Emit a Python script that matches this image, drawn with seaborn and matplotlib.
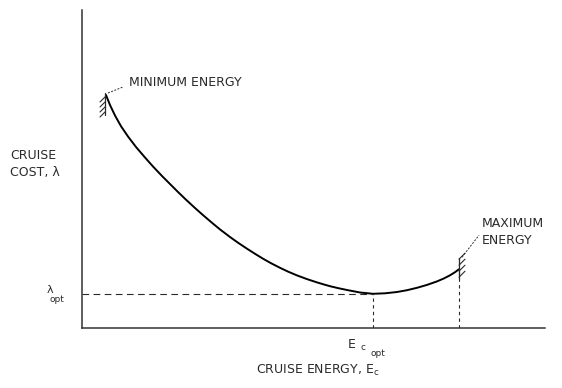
import matplotlib
matplotlib.use("Agg")
import matplotlib.pyplot as plt
import seaborn as sns
import pandas as pd

# ---- data (chart units) ----
energy = [24, 28, 33, 39, 46, 54, 63, 71, 80, 88, 96, 104, 113, 121, 130, 138,
          148, 156, 165, 173, 181, 189, 198, 206, 215, 225, 235, 242, 248, 256,
          265, 278, 291, 303, 315, 325, 335, 345, 355, 362, 368, 373, 377]
cost = [233, 223, 212.5, 201.8, 191.5, 181, 170.5, 161.5, 152, 144, 136, 128.3,
        120, 112.9, 105.2, 98.6, 91, 85.3, 79.3, 74.2, 69.3, 64.8, 60.2, 56.4,
        52.6, 48.9, 45.6, 43.5, 41.8, 39.9, 38, 35.5, 34.2, 34.7, 36, 37.8,
        40.2, 43.1, 46.6, 49.6, 52.7, 55.8, 58.8]
lambda_opt = 34
e_opt = 291
e_max = 377
xlim = (0, 463)
ylim = (0, 318)

sns.set_style("white")
plt.rcParams['font.family'] = ['DejaVu Sans']

fig = plt.figure(figsize=(5.62, 3.88), dpi=100)
ax = fig.add_axes([82 / 562, 60 / 388, 463 / 562, 318 / 388])

df = pd.DataFrame({"energy": energy, "cost": cost})
sns.lineplot(data=df, x="energy", y="cost", ax=ax, color="black", lw=1.4,
             sort=False, estimator=None)
ax.lines[-1].set_solid_joinstyle("round")

ink = "#2a2a2a"
# dashed guide lines
ax.plot([xlim[0], e_opt], [lambda_opt, lambda_opt], color=ink, lw=0.8,
        ls=(0, (6, 4)))
ax.plot([e_opt, e_opt], [ylim[0], min(cost)], color=ink, lw=0.8, ls=(0, (3, 3)))
ax.plot([e_max, e_max], [ylim[0], cost[-1]], color=ink, lw=0.8, ls=(0, (3, 3)))

# hatched end stops
x0, y0 = energy[0], cost[0]
ax.plot([x0 - 1, x0 - 1], [y0 + 2, y0 - 20], color=ink, lw=0.9)
for k in range(4):
    yy = y0 - 2 - 5 * k
    ax.plot([x0 - 1, x0 - 6], [yy, yy - 5], color=ink, lw=0.8)
x1, y1 = energy[-1], cost[-1]
ax.plot([x1, x1], [y1 - 10, y1 + 11], color=ink, lw=0.9)
for k in range(4):
    yy = y1 - 8 + 6 * k
    ax.plot([x1, x1 + 6], [yy, yy + 6], color=ink, lw=0.8)

# leaders
ax.plot([x0 + 2, x0 + 17], [y0 + 2, y0 + 8], color=ink, lw=0.7, ls=(0, (2, 1.5)))
ax.plot([x1 + 3, x1 + 20], [y1 + 12, y1 + 34], color=ink, lw=0.7, ls=(0, (2, 1.5)))

fs = 9
ax.text(x0 + 23, y0 + 12, "MINIMUM ENERGY", fontsize=fs, color=ink,
        ha="left", va="center")
ax.text(x1 + 23, y1 + 37, "MAXIMUM\nENERGY", fontsize=fs, color=ink,
        ha="left", va="center", linespacing=1.4)

# axis labels
ax.text(-72, 164, "CRUISE\nCOST, λ", fontsize=fs, color=ink, ha="left",
        va="center", linespacing=1.4, clip_on=False)
ax.text(-35, 38, "λ", fontsize=8, color=ink, ha="left", va="center", clip_on=False)
ax.text(-32, 28, "opt", fontsize=6.5, color=ink, ha="left", va="center",
        clip_on=False)
ax.text(e_opt - 21, -16, "E", fontsize=fs, color=ink, ha="center", va="center",
        clip_on=False)
ax.text(e_opt - 10, -19, "c", fontsize=6.5, color=ink, ha="center", va="center",
        clip_on=False)
ax.text(e_opt + 5, -25, "opt", fontsize=6.5, color=ink, ha="center", va="center",
        clip_on=False)
ax.text(236, -42, "CRUISE ENERGY, E$_\\mathregular{c}$", fontsize=fs, color=ink,
        ha="center", va="center", clip_on=False)

ax.set_xlim(*xlim)
ax.set_ylim(*ylim)
ax.set_xticks([])
ax.set_yticks([])
ax.set_xlabel("")
ax.set_ylabel("")
for s in ["top", "right"]:
    ax.spines[s].set_visible(False)
for s in ["left", "bottom"]:
    ax.spines[s].set_color("#333333")
    ax.spines[s].set_linewidth(1.1)

fig.savefig("out.png", dpi=100)
